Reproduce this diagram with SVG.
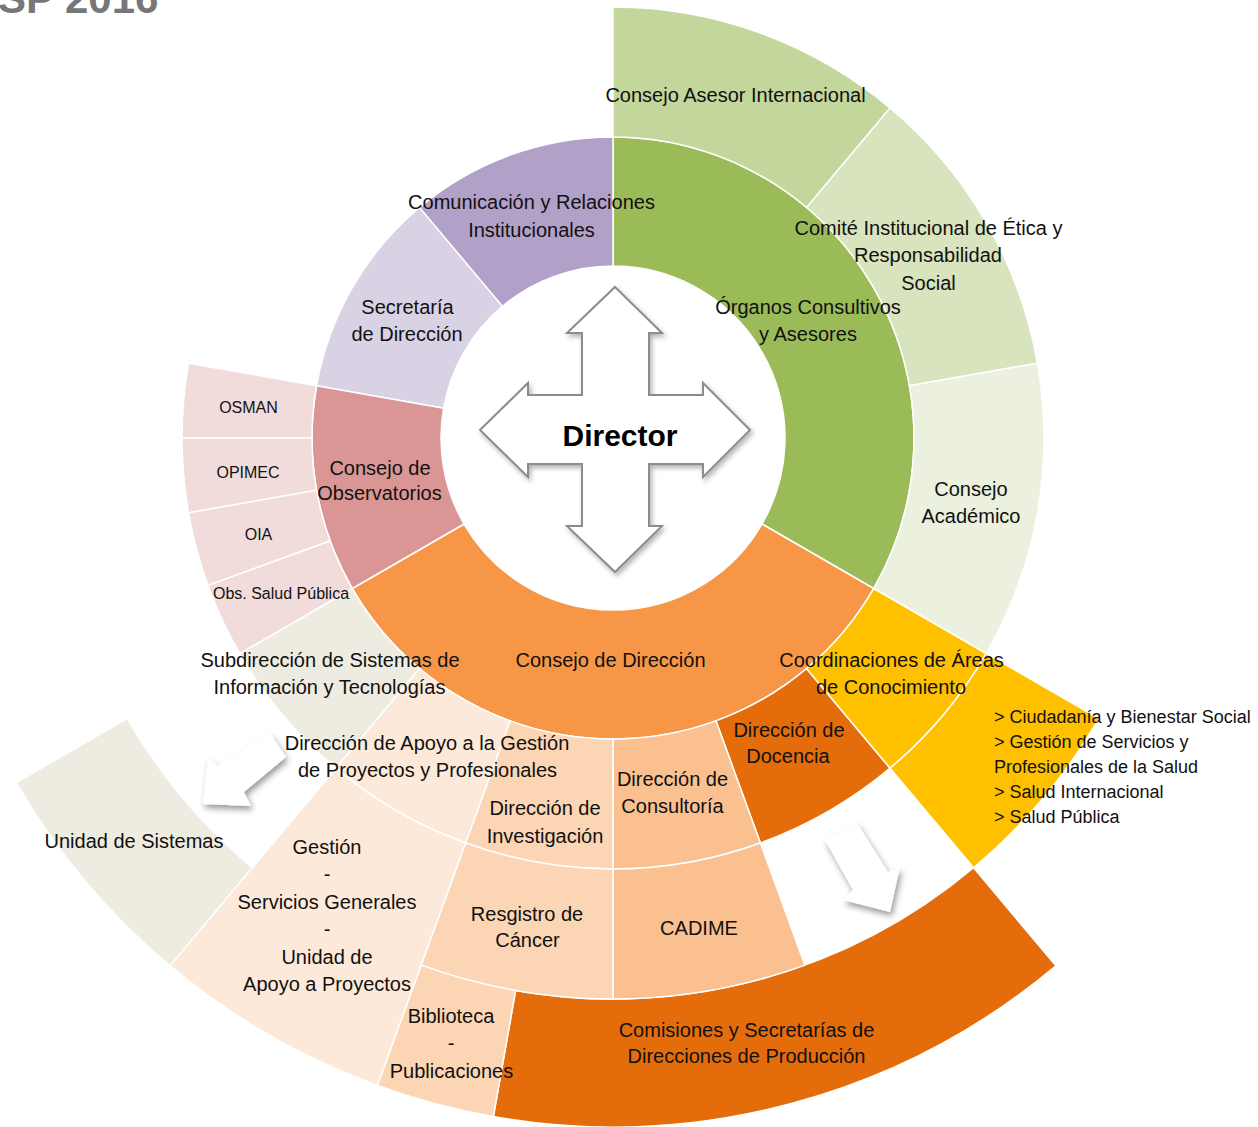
<svg xmlns="http://www.w3.org/2000/svg" width="1258" height="1127" viewBox="0 0 1258 1127">
<defs>
<style>
.seg{stroke:#fff;stroke-width:1.5}
.t{font-family:"Liberation Sans",Arial,sans-serif;font-size:20px;fill:#111;text-anchor:middle}
.s{font-size:16px}
.l{font-size:18px;text-anchor:start}
.g1{fill:#9BBB59}.g2{fill:#C3D69B}.g3{fill:#D7E4BD}.g4{fill:#EBF1DE}
.p1{fill:#B1A0C7}.p2{fill:#D9D2E5}
.r1{fill:#DA9694}.r2{fill:#F2DCDB}
.o1{fill:#F79646}.o2{fill:#E46C0A}.o3{fill:#FAC090}.o4{fill:#FCD5B5}.o5{fill:#FDE9D9}
.y1{fill:#FFC000}.b1{fill:#EEECE1}
.arrow{fill:#fff}
</style>
<filter id="sh" x="-30%" y="-30%" width="160%" height="160%">
<feDropShadow dx="2" dy="4" stdDeviation="3" flood-color="#000" flood-opacity="0.4"/>
</filter>
<filter id="sh2" x="-20%" y="-20%" width="140%" height="140%">
<feDropShadow dx="2" dy="3" stdDeviation="2.5" flood-color="#000" flood-opacity="0.3"/>
</filter>
</defs>
<rect width="1258" height="1127" fill="#fff"/>
<text x="-2" y="13" style="font-family:'Liberation Sans',Arial,sans-serif;font-size:42px;font-weight:bold;fill:#777">SP 2016</text>

<g id="organos-consultivos">
<path class="seg g1" d="M613,266 L613,137 A301,301 0 0 1 873.67,588.5 L761.95,524 A172,172 0 0 0 613,266 Z"/>
<g id="comite-etica">
<path class="seg g3" d="M806.48,207.43 L890.05,107.85 A431,431 0 0 1 1037.45,363.18 L909.43,385.75 A301,301 0 0 0 806.48,207.43 Z"/>
<text class="t"><tspan x="928.5" y="235">Comité Institucional de Ética y</tspan><tspan x="928" y="262">Responsabilidad</tspan><tspan x="928.5" y="290">Social</tspan></text>
</g>
<g id="consejo-academico">
<path class="seg g4" d="M909.43,385.75 L1037.45,363.18 A431,431 0 0 1 986.25,653.5 L873.67,588.5 A301,301 0 0 0 909.43,385.75 Z"/>
<text class="t"><tspan x="971" y="496">Consejo</tspan><tspan x="971" y="523">Académico</tspan></text>
</g>
<g id="consejo-asesor-internacional">
<path class="seg g2" d="M613,137 L613,7 A431,431 0 0 1 890.05,107.85 L806.48,207.43 A301,301 0 0 0 613,137 Z"/>
<text class="t" x="735.5" y="102">Consejo Asesor Internacional</text>
</g>
<text class="t"><tspan x="808" y="314">Órganos Consultivos</tspan><tspan x="808" y="341">y Asesores</tspan></text>
</g>

<g id="secretaria-direccion">
<path class="seg p2" d="M443.61,408.14 L316.57,385.75 A301,301 0 0 1 419.52,207.43 L502.44,306.25 A172,172 0 0 0 443.61,408.14 Z"/>
<text class="t"><tspan x="407.5" y="314">Secretaría</tspan><tspan x="407" y="341">de Dirección</tspan></text>
</g>

<g id="comunicacion">
<path class="seg p1" d="M502.44,306.25 L419.52,207.43 A301,301 0 0 1 613,137 L613,266 A172,172 0 0 0 502.44,306.25 Z"/>
<text class="t"><tspan x="531.5" y="209">Comunicación y Relaciones</tspan><tspan x="531.5" y="237">Institucionales</tspan></text>
</g>

<g id="consejo-direccion">
<path class="seg o1" d="M761.95,524 L873.67,588.5 A301,301 0 0 1 352.33,588.5 L464.05,524 A172,172 0 0 0 761.95,524 Z"/>
<g id="comisiones">
<path class="seg o2" d="M973.61,867.73 L1055.89,965.79 A689,689 0 0 1 493.39,1116.53 L515.61,990.47 A561,561 0 0 0 973.61,867.73 Z"/>
<text class="t"><tspan x="746.5" y="1037">Comisiones y Secretarías de</tspan><tspan x="746.5" y="1063">Direcciones de Producción</tspan></text>
</g>
<g id="docencia">
<path class="seg o2" d="M806.48,668.57 L890.05,768.15 A431,431 0 0 1 760.4,843.01 L715.94,720.85 A301,301 0 0 0 806.48,668.57 Z"/>
<text class="t"><tspan x="789" y="737">Dirección de</tspan><tspan x="788" y="763">Docencia</tspan></text>
</g>
<g id="coordinaciones">
<path class="seg y1" d="M873.67,588.5 L986.25,653.5 A431,431 0 0 1 890.05,768.15 L806.48,668.57 A301,301 0 0 0 873.67,588.5 Z"/>
<g id="areas-conocimiento">
<path class="seg y1" d="M986.25,653.5 L1098.83,718.5 A561,561 0 0 1 973.61,867.73 L890.05,768.15 A431,431 0 0 0 986.25,653.5 Z"/>
<text class="t l"><tspan x="994" y="723">&gt; Ciudadanía y Bienestar Social</tspan><tspan x="994" y="748">&gt; Gestión de Servicios y</tspan><tspan x="994" y="773">Profesionales de la Salud</tspan><tspan x="994" y="798">&gt; Salud Internacional</tspan><tspan x="994" y="823">&gt; Salud Pública</tspan></text>
</g>
<text class="t"><tspan x="891.5" y="667">Coordinaciones de Áreas</tspan><tspan x="891" y="694">de Conocimiento</tspan></text>
</g>
<g id="consultoria">
<path class="seg o3" d="M715.94,720.85 L760.4,843.01 A431,431 0 0 1 613,869 L613,739 A301,301 0 0 0 715.94,720.85 Z"/>
<g id="cadime">
<path class="seg o3" d="M760.4,843.01 L804.87,965.17 A561,561 0 0 1 613,999 L613,869 A431,431 0 0 0 760.4,843.01 Z"/>
<text class="t" x="699" y="935">CADIME</text>
</g>
<text class="t"><tspan x="672.5" y="786">Dirección de</tspan><tspan x="672.5" y="813">Consultoría</tspan></text>
</g>
<g id="investigacion">
<path class="seg o4" d="M613,739 L613,869 A431,431 0 0 1 465.6,843.01 L510.06,720.85 A301,301 0 0 0 613,739 Z"/>
<g id="registro-cancer">
<path class="seg o4" d="M613,869 L613,999 A561,561 0 0 1 421.13,965.17 L465.6,843.01 A431,431 0 0 0 613,869 Z"/>
<text class="t"><tspan x="527" y="921">Resgistro de</tspan><tspan x="527.5" y="947">Cáncer</tspan></text>
</g>
<g id="biblioteca">
<path class="seg o4" d="M515.61,990.47 L493.39,1116.53 A689,689 0 0 1 377.36,1085.45 L421.13,965.17 A561,561 0 0 0 515.61,990.47 Z"/>
<text class="t"><tspan x="451" y="1023">Biblioteca</tspan><tspan x="451" y="1050">-</tspan><tspan x="451.5" y="1078">Publicaciones</tspan></text>
</g>
<text class="t"><tspan x="545" y="815">Dirección de</tspan><tspan x="545" y="843">Investigación</tspan></text>
</g>
<g id="subdireccion-sistemas">
<path class="seg b1" d="M419.52,668.57 L335.95,768.15 A431,431 0 0 1 239.75,653.5 L352.33,588.5 A301,301 0 0 0 419.52,668.57 Z"/>
<g id="unidad-sistemas">
<path class="seg b1" d="M252.39,867.73 L170.11,965.79 A689,689 0 0 1 16.31,782.5 L127.17,718.5 A561,561 0 0 0 252.39,867.73 Z"/>
<text class="t" x="134" y="848">Unidad de Sistemas</text>
</g>
<g id="apoyo-gestion">
<path class="seg o5" d="M510.06,720.85 L465.6,843.01 A431,431 0 0 1 335.95,768.15 L419.52,668.57 A301,301 0 0 0 510.06,720.85 Z"/>
<g id="gestion-servicios">
<path class="seg o5" d="M465.6,843.01 L377.36,1085.45 A689,689 0 0 1 170.11,965.79 L335.95,768.15 A431,431 0 0 0 465.6,843.01 Z"/>
<text class="t"><tspan x="327" y="854">Gestión</tspan><tspan x="327" y="881">-</tspan><tspan x="327" y="909">Servicios Generales</tspan><tspan x="327" y="936">-</tspan><tspan x="327" y="964">Unidad de</tspan><tspan x="327" y="991">Apoyo a Proyectos</tspan></text>
</g>
<text class="t"><tspan x="427" y="750">Dirección de Apoyo a la Gestión</tspan><tspan x="427.5" y="777">de Proyectos y Profesionales</tspan></text>
</g>
<text class="t"><tspan x="330" y="667">Subdirección de Sistemas de</tspan><tspan x="329.5" y="694">Información y Tecnologías</tspan></text>
</g>
<text class="t" x="610.5" y="667">Consejo de Dirección</text>
</g>

<g id="consejo-observatorios">
<path class="seg r1" d="M464.05,524 L352.33,588.5 A301,301 0 0 1 316.57,385.75 L443.61,408.14 A172,172 0 0 0 464.05,524 Z"/>
<g id="osman">
<path class="seg r2" d="M312,438 L182,438 A431,431 0 0 1 188.55,363.18 L316.57,385.75 A301,301 0 0 0 312,438 Z"/>
<text class="t s" x="248.5" y="413">OSMAN</text>
</g>
<g id="opimec">
<path class="seg r2" d="M316.57,490.25 L188.55,512.82 A431,431 0 0 1 182,438 L312,438 A301,301 0 0 0 316.57,490.25 Z"/>
<text class="t s" x="248" y="478">OPIMEC</text>
</g>
<g id="oia">
<path class="seg r2" d="M330.15,540.94 L207.99,585.4 A431,431 0 0 1 188.55,512.82 L316.57,490.25 A301,301 0 0 0 330.15,540.94 Z"/>
<text class="t s" x="258.5" y="540">OIA</text>
</g>
<g id="obs-salud-publica">
<path class="seg r2" d="M352.33,588.5 L239.75,653.5 A431,431 0 0 1 207.99,585.4 L330.15,540.94 A301,301 0 0 0 352.33,588.5 Z"/>
<text class="t s" x="281" y="599">Obs. Salud Pública</text>
</g>
<text class="t"><tspan x="380" y="475">Consejo de</tspan><tspan x="379.5" y="500">Observatorios</tspan></text>
</g>

<g id="connectors">
<polygon class="arrow" filter="url(#sh)" points="270,733 286,757 244,792 251,806 203,804 208,758 218,766"/>
<polygon class="arrow" filter="url(#sh)" points="825,840 857,823 888,872 900,867 890,912 843,900 853,890"/>
</g>

<g id="director">
<polygon filter="url(#sh2)" fill="#fff" stroke="#8C8C8C" stroke-width="2" stroke-linejoin="miter" points="615,287 662,333 649,333 649,395 703,395 703,383 750,430 703,477 703,464 649,464 649,526 662,526 615,572 567,526 582,526 582,464 528,464 528,477 480,430 528,383 528,395 582,395 582,333 567,333"/>
<text class="t" x="620" y="446" style="font-size:30px;font-weight:bold;fill:#000">Director</text>
</g>
</svg>
